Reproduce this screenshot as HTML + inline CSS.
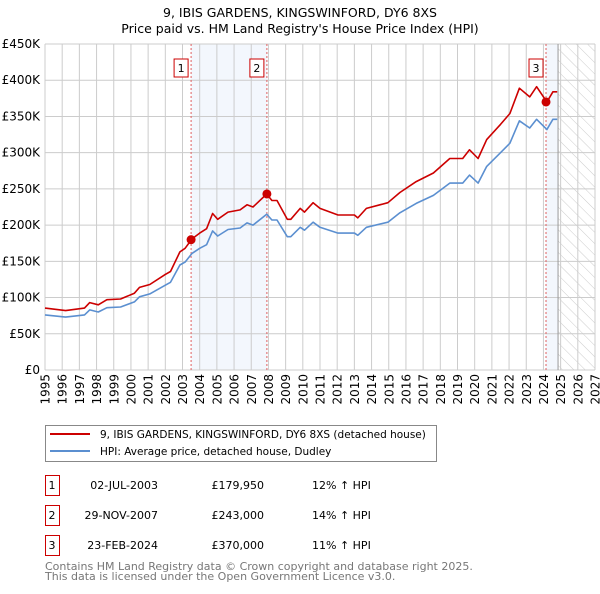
<!DOCTYPE html>
<html><head><meta charset="utf-8"><style>
body{margin:0;background:#fff;font-family:"DejaVu Sans","Liberation Sans",sans-serif;}
svg text{font-family:"DejaVu Sans","Liberation Sans",sans-serif;}
</style></head><body>
<svg id="chart" width="600" height="590" viewBox="0 0 600 590" xmlns="http://www.w3.org/2000/svg">
<defs><pattern id="hatch" width="8" height="8" patternUnits="userSpaceOnUse" patternTransform="rotate(-45)"><line x1="0" y1="0" x2="0" y2="8" stroke="#ccc" stroke-width="1"/></pattern></defs>
<text x="300" y="17" text-anchor="middle" font-size="12.5">9, IBIS GARDENS, KINGSWINFORD, DY6 8XS</text>
<text x="300" y="33" text-anchor="middle" font-size="12.5">Price paid vs. HM Land Registry's House Price Index (HPI)</text>
<g id="plot"></g>
<g>
<rect x="45.5" y="425.5" width="391" height="36" fill="#fff" stroke="#888"/>
<line x1="50" y1="434" x2="90" y2="434" stroke="#cc0000" stroke-width="2"/>
<text x="100" y="438" font-size="10.5">9, IBIS GARDENS, KINGSWINFORD, DY6 8XS (detached house)</text>
<line x1="50" y1="451" x2="90" y2="451" stroke="#5b8fd0" stroke-width="2"/>
<text x="100" y="455" font-size="10.5">HPI: Average price, detached house, Dudley</text>
</g>
<g id="table"></g>
<text x="45" y="570" font-size="11" fill="#777">Contains HM Land Registry data © Crown copyright and database right 2025.</text>
<text x="45" y="580" font-size="11" fill="#777">This data is licensed under the Open Government Licence v3.0.</text>
</svg>
<script>
const years=[1995,1996.2,1997.3,1997.6,1998.1,1998.6,1999.4,2000.2,2000.5,2001.1,2002,2002.3,2002.85,2003.15,2003.55,2004,2004.4,2004.75,2005.05,2005.65,2006.35,2006.75,2007.1,2007.9,2008.2,2008.5,2009.1,2009.3,2009.85,2010.1,2010.6,2011,2012.05,2013.0,2013.2,2013.7,2014.95,2015.65,2016.6,2017.6,2018.55,2019.3,2019.7,2020.2,2020.7,2021.5,2022.05,2022.6,2023.2,2023.6,2024.2,2024.55,2024.8];
const hpiValues=[76,73,76,83,80,86,87,94,101,105,117,121,145,149,161,168,173,192,185,194,196,203,200,215,207,207,184,184,197,193,204,197,189,189,186,197,204,217,230,241,258,258,269,258,281,300,313,344,334,346,332,346,346];
const priceValues=[85.5,82,85.5,93,90,97,98,106,114,118,132,136,163,168,181,189,195,216,208,218,221,228,225,243,234,234,208,208,223,218,231,223,214,214,210,223,231,245,260,272,292,292,304,292,318,339,354,389,377,391,370,384,384];
const saleYears=[2003.5,2007.91,2024.15];
const salePrices=[179.95,243,370];
const saleLabels=["1","2","3"];
const saleDates=["02-JUL-2003","29-NOV-2007","23-FEB-2024"];
const salePriceText=["£179,950","£243,000","£370,000"];
const saleHpiText=["12% ↑ HPI","14% ↑ HPI","11% ↑ HPI"];
const yTicks=[0,50,100,150,200,250,300,350,400,450];
const yTickLabels=["£0","£50K","£100K","£150K","£200K","£250K","£300K","£350K","£400K","£450K"];
const xTicks=[1995,1996,1997,1998,1999,2000,2001,2002,2003,2004,2005,2006,2007,2008,2009,2010,2011,2012,2013,2014,2015,2016,2017,2018,2019,2020,2021,2022,2023,2024,2025,2026,2027];
const dataEnd=2024.85;

const L=45,R=595,T=44,B=370;
const xs=y=>L+(y-1995)/(2027-1995)*(R-L);
const ys=v=>B-v/450*(B-T);
const NS="http://www.w3.org/2000/svg";
const plot=document.getElementById('plot');
function mk(tag,attrs,parent){const e=document.createElementNS(NS,tag);for(const k in attrs)e.setAttribute(k,attrs[k]);(parent||plot).appendChild(e);return e;}

let b1=mk('rect',{x:xs(saleYears[0]),y:T,width:xs(saleYears[1])-xs(saleYears[0]),height:B-T,fill:'#eef3fc',opacity:0.7});


let b3=mk('rect',{x:xs(saleYears[2]),y:T,width:xs(dataEnd)-xs(saleYears[2]),height:B-T,fill:'#eef3fc',opacity:0.7});


let hz=mk('rect',{x:xs(dataEnd),y:T,width:R-xs(dataEnd),height:B-T,fill:'url(#hatch)'});



xTicks.forEach((t,i)=>{
  const g=mk('line',{x1:xs(t),x2:xs(t),y1:T,y2:B,stroke:'#cccccc','stroke-width':1});
  
  
  const tx=mk('text',{x:0,y:0,'text-anchor':'end','font-size':12,transform:'translate('+(xs(t)+4.5)+','+(B+4)+') rotate(-90)'});
  tx.textContent=t;
  
  
});
yTicks.forEach((v,i)=>{
  const g=mk('line',{x1:L,x2:R,y1:ys(v),y2:ys(v),stroke:'#cccccc','stroke-width':1});
  
  
  const tx=mk('text',{x:L-5,y:ys(v)+4,'text-anchor':'end','font-size':12});
  tx.textContent=yTickLabels[i];
  
  
});
let dl=mk('line',{x1:xs(dataEnd),x2:xs(dataEnd),y1:T,y2:B,stroke:'#999','stroke-width':1});



saleYears.forEach((s,i)=>{
  const l=mk('line',{x1:xs(s),x2:xs(s),y1:T,y2:B,stroke:'#e06060','stroke-width':1,'stroke-dasharray':'2,2'});
  
  
  const r=mk('rect',{x:xs(s)-17,y:59,width:14,height:18,fill:'#fff',stroke:'#cc0000'});
  
  
  const t=mk('text',{x:xs(s)-10,y:72,'text-anchor':'middle','font-size':11});
  t.textContent=saleLabels[i];
  
  
});

function line(vals,color,name){
  const d=years.map((y,i)=>(i?'L':'M')+xs(y).toFixed(1)+','+ys(vals[i]).toFixed(1)).join('');
  const p=mk('path',{d:d,fill:'none',stroke:color,'stroke-width':1.6,'stroke-linejoin':'round'});
  
  
}
line(hpiValues,'#5b8fd0','hpi-line');
line(priceValues,'#cc0000','price-line');
saleYears.forEach((s,i)=>{
  const c=mk('circle',{cx:xs(s),cy:ys(salePrices[i]),r:4.5,fill:'#cc0000'});
  
  
});

const tb=document.getElementById('table');
saleLabels.forEach((lab,i)=>{
  const y0=475+i*30;
  const r=mk('rect',{x:45.5,y:y0+0.5,width:14,height:20,fill:'#fff',stroke:'#cc0000'},tb);
  
  
  const cells=[[52,'middle',lab],[158,'end',saleDates[i]],[264,'end',salePriceText[i]],[312,'start',saleHpiText[i]]];
  cells.forEach(c=>{
    const t=mk('text',{x:c[0],y:y0+14,'text-anchor':c[1],'font-size':11},tb);
    t.textContent=c[2];
    
    
  });
});
</script>
</body></html>
